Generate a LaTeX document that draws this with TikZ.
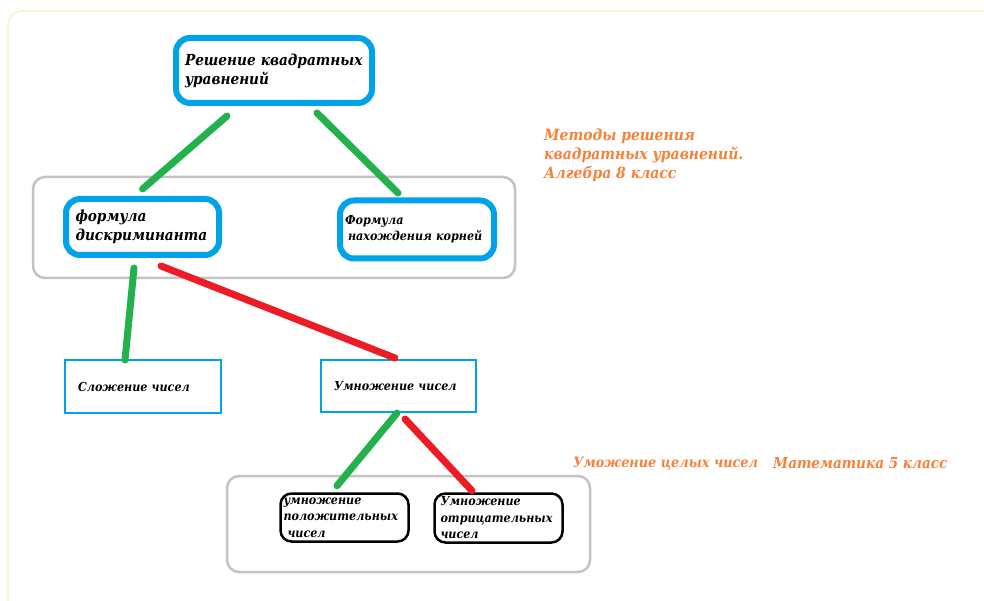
\documentclass[tikz,border=0pt]{standalone}
\usepackage{fontspec}
\setmainfont{DejaVu Serif}[FakeStretch=0.9]
\usepackage{tikz}
\usetikzlibrary{calc}

\definecolor{paintblue}{HTML}{00A2E8}
\definecolor{paintgreen}{HTML}{22B14C}
\definecolor{paintred}{HTML}{ED1C24}
\definecolor{groupgray}{HTML}{C3C3C3}
\definecolor{notecol}{HTML}{F5823A}
\definecolor{framecol}{HTML}{F2F7C4}

\tikzset{
  bigtext/.style={font=\fontsize{15.2}{19}\selectfont\bfseries\itshape, align=left},
  smalltext/.style={font=\fontsize{12.4}{16.5}\selectfont\bfseries\itshape, align=left},
  bluebox/.style={draw=paintblue, line width=6pt, rounded corners=14pt, inner sep=0pt},
  thinbox/.style={draw=paintblue, line width=2pt, inner sep=0pt, smalltext},
  blackbox/.style={draw=black, line width=2.5pt, rounded corners=11pt, inner sep=0pt, smalltext},
  groupbox/.style={draw=groupgray, line width=2.5pt, rounded corners=12pt},
  greenlink/.style={draw=paintgreen, line width=7pt, line cap=round},
  redlink/.style={draw=paintred, line width=7pt, line cap=round},
  note/.style={text=notecol, font=\fontsize{15.5}{19}\selectfont\bfseries\itshape, align=left, anchor=base west, inner sep=0pt}
}

\begin{document}
\begin{tikzpicture}[x=1pt,y=-1pt]
  \useasboundingbox (0,0) rectangle (984,601);
  \fill[white] (0,0) rectangle (984,601);
  \draw[framecol, line width=1.5pt, rounded corners=14pt] (8,601) -- (8,11) -- (984,11);

  % groups
  \draw[groupbox] (33,177) rectangle (515,278);
  \draw[groupbox] (227,476) rectangle (590,572);

  % boxes
  \node[bluebox, bigtext, minimum width=196pt, minimum height=65pt, text width=178pt] (top) at (274,70.5)
    {Решение~квадратных\\уравнений};
  \node[bluebox, bigtext, minimum width=153pt, minimum height=56pt, text width=134pt] (disc) at (142.5,227)
    {формула\\дискриминанта};
  \node[bluebox, smalltext, minimum width=154pt, minimum height=58pt, text width=144pt] (roots) at (417,229.5)
    {Формула\\\hspace*{3pt}нахождения~корней};
  \node[thinbox, minimum width=156pt, minimum height=53pt, text width=130pt] (add) at (143,386.5)
    {Сложение чисел};
  \node[thinbox, minimum width=155pt, minimum height=52pt, text width=129pt] (mult) at (398.5,386)
    {Умножение чисел};
  \node[blackbox, minimum width=128pt, minimum height=48pt, text width=122pt] (pos) at (344.5,517.5)
    {умножение\\положительных\\\hspace*{4pt}чисел};
  \node[blackbox, minimum width=128pt, minimum height=49pt, text width=116pt] (neg) at (498.5,518)
    {Умножение\\отрицательных\\чисел};

  % notes
  \node[note] (algebra) at (544,179) {Методы решения\\квадратных уравнений.\\Алгебра 8 класс};
  \node[note, font=\fontsize{14.3}{19}\selectfont\bfseries\itshape] (integers) at (573,467) {Уможение целых чисел};
  \node[note, font=\fontsize{15.1}{19}\selectfont\bfseries\itshape] (grade) at (773,468) {Математика 5 класс};

  % links
  \draw[greenlink] ([xshift=-47pt,yshift=-10pt]top.south) -- ([yshift=7pt]disc.north);
  \draw[greenlink] ([xshift=43pt,yshift=-7pt]top.south) -- ([xshift=-19pt,yshift=4.5pt]roots.north);
  \draw[greenlink] ([xshift=-8.5pt,yshift=-10pt]disc.south) -- ([xshift=-18pt,yshift=-1pt]add.north);
  \draw[redlink] ([xshift=18.5pt,yshift=-8pt]disc.south) -- ([xshift=-3.5pt,yshift=1pt]mult.north);
  \draw[greenlink] ([xshift=-1.5pt]mult.south) -- ([xshift=-7.5pt,yshift=6.5pt]pos.north);
  \draw[redlink] ([xshift=6.5pt,yshift=-6pt]mult.south) -- ([xshift=-26.5pt,yshift=1.5pt]neg.north);
\end{tikzpicture}
\end{document}
